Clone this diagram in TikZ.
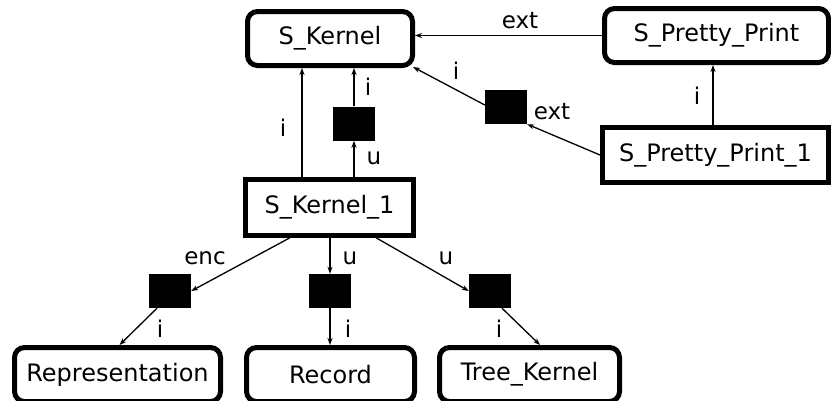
\documentclass[tikz,border=0pt]{standalone}
\usepackage{fontspec}
\setmainfont{DejaVu Sans}
\usetikzlibrary{arrows.meta,calc}
\begin{document}
\begin{tikzpicture}[x=1pt,y=-1pt,
  font=\fontsize{24}{26}\selectfont,
  modbox/.style={draw,line width=5pt,rounded corners=10pt,inner sep=0pt,align=center},
  implbox/.style={draw,line width=5pt,inner sep=0pt,align=center},
  blk/.style={fill=black,inner sep=0pt,minimum width=42pt,minimum height=34pt},
  link/.style={line width=1.3pt,-{Stealth[length=7pt,width=5pt]}},
  lbl/.style={font=\fontsize{23}{25}\selectfont,inner sep=0pt}]
\useasboundingbox (0,0) rectangle (831,400);

% modules and their implementations
\node[modbox,minimum width=165pt,minimum height=54pt] (K) at (330,38.5) {S\_Kernel};
\node[modbox,minimum width=224pt,minimum height=54pt] (PP) at (716.5,35.5) {S\_Pretty\_Print};
\node[implbox,minimum width=226pt,minimum height=55pt] (PP1) at (715.5,155) {S\_Pretty\_Print\_1};
\node[implbox,minimum width=168pt,minimum height=56pt] (K1) at (329.5,207.5) {S\_Kernel\_1};
\node[modbox,minimum width=206pt,minimum height=54pt] (Rep) at (117.5,374.5) {Representation};
\node[modbox,minimum width=168pt,minimum height=54pt] (Rec) at (330.5,374.5) {Record};
\node[modbox,minimum width=180pt,minimum height=54pt] (Tree) at (529.5,374.5) {Tree\_Kernel};

% junction blocks
\node[blk] (q1) at (354,123.5) {};
\node[blk] (q2) at (506,107) {};
\node[blk] (qa) at (170,291) {};
\node[blk] (qb) at (330,291) {};
\node[blk] (qc) at (490,291) {};

% connectors around the kernel
\draw[link] (K1.north -| 302,0) -- (K.south -| 302,0);
\node[lbl] at (283,128) {i};
\draw[link] (K1.north -| q1) -- (q1.south);
\node[lbl] at (374,158) {u};
\draw[link] (q1.north) -- (K.south -| q1);
\node[lbl] at (368,87) {i};

\draw[link] (PP.west) -- (K.east |- PP.west);
\node[lbl] at (520,21) {ext};
\draw[link] (PP1.north -| 713,0) -- (PP.south -| 713,0);
\node[lbl] at (697,96) {i};
\draw[link] (PP1.west) -- (q2.south east);
\node[lbl] at (552,112) {ext};
\draw[link] ($(q2.west)+(0,-2)$) -- ($(K.south east)+(-2,-1)$);
\node[lbl] at (456,71) {i};

% connectors to the imported modules
\draw[link] ($(K1.south)+(-40,0)$) -- (qa.east);
\node[lbl] at (205,258) {enc};
\draw[link] ($(qa.south)+(-13,0)$) -- ($(Rep.north)+(2,0)$);
\node[lbl] at (160,329) {i};

\draw[link] (K1.south -| qb) -- (qb.north);
\node[lbl] at (350,258) {u};
\draw[link] (qb.south) -- (Rec.north -| qb);
\node[lbl] at (348,329) {i};

\draw[link] ($(K1.south)+(47,0)$) -- (qc.west);
\node[lbl] at (446,258) {u};
\draw[link] ($(qc.south)+(12,0)$) -- (Tree.north -| 540,0);
\node[lbl] at (499,329) {i};
\end{tikzpicture}
\end{document}
